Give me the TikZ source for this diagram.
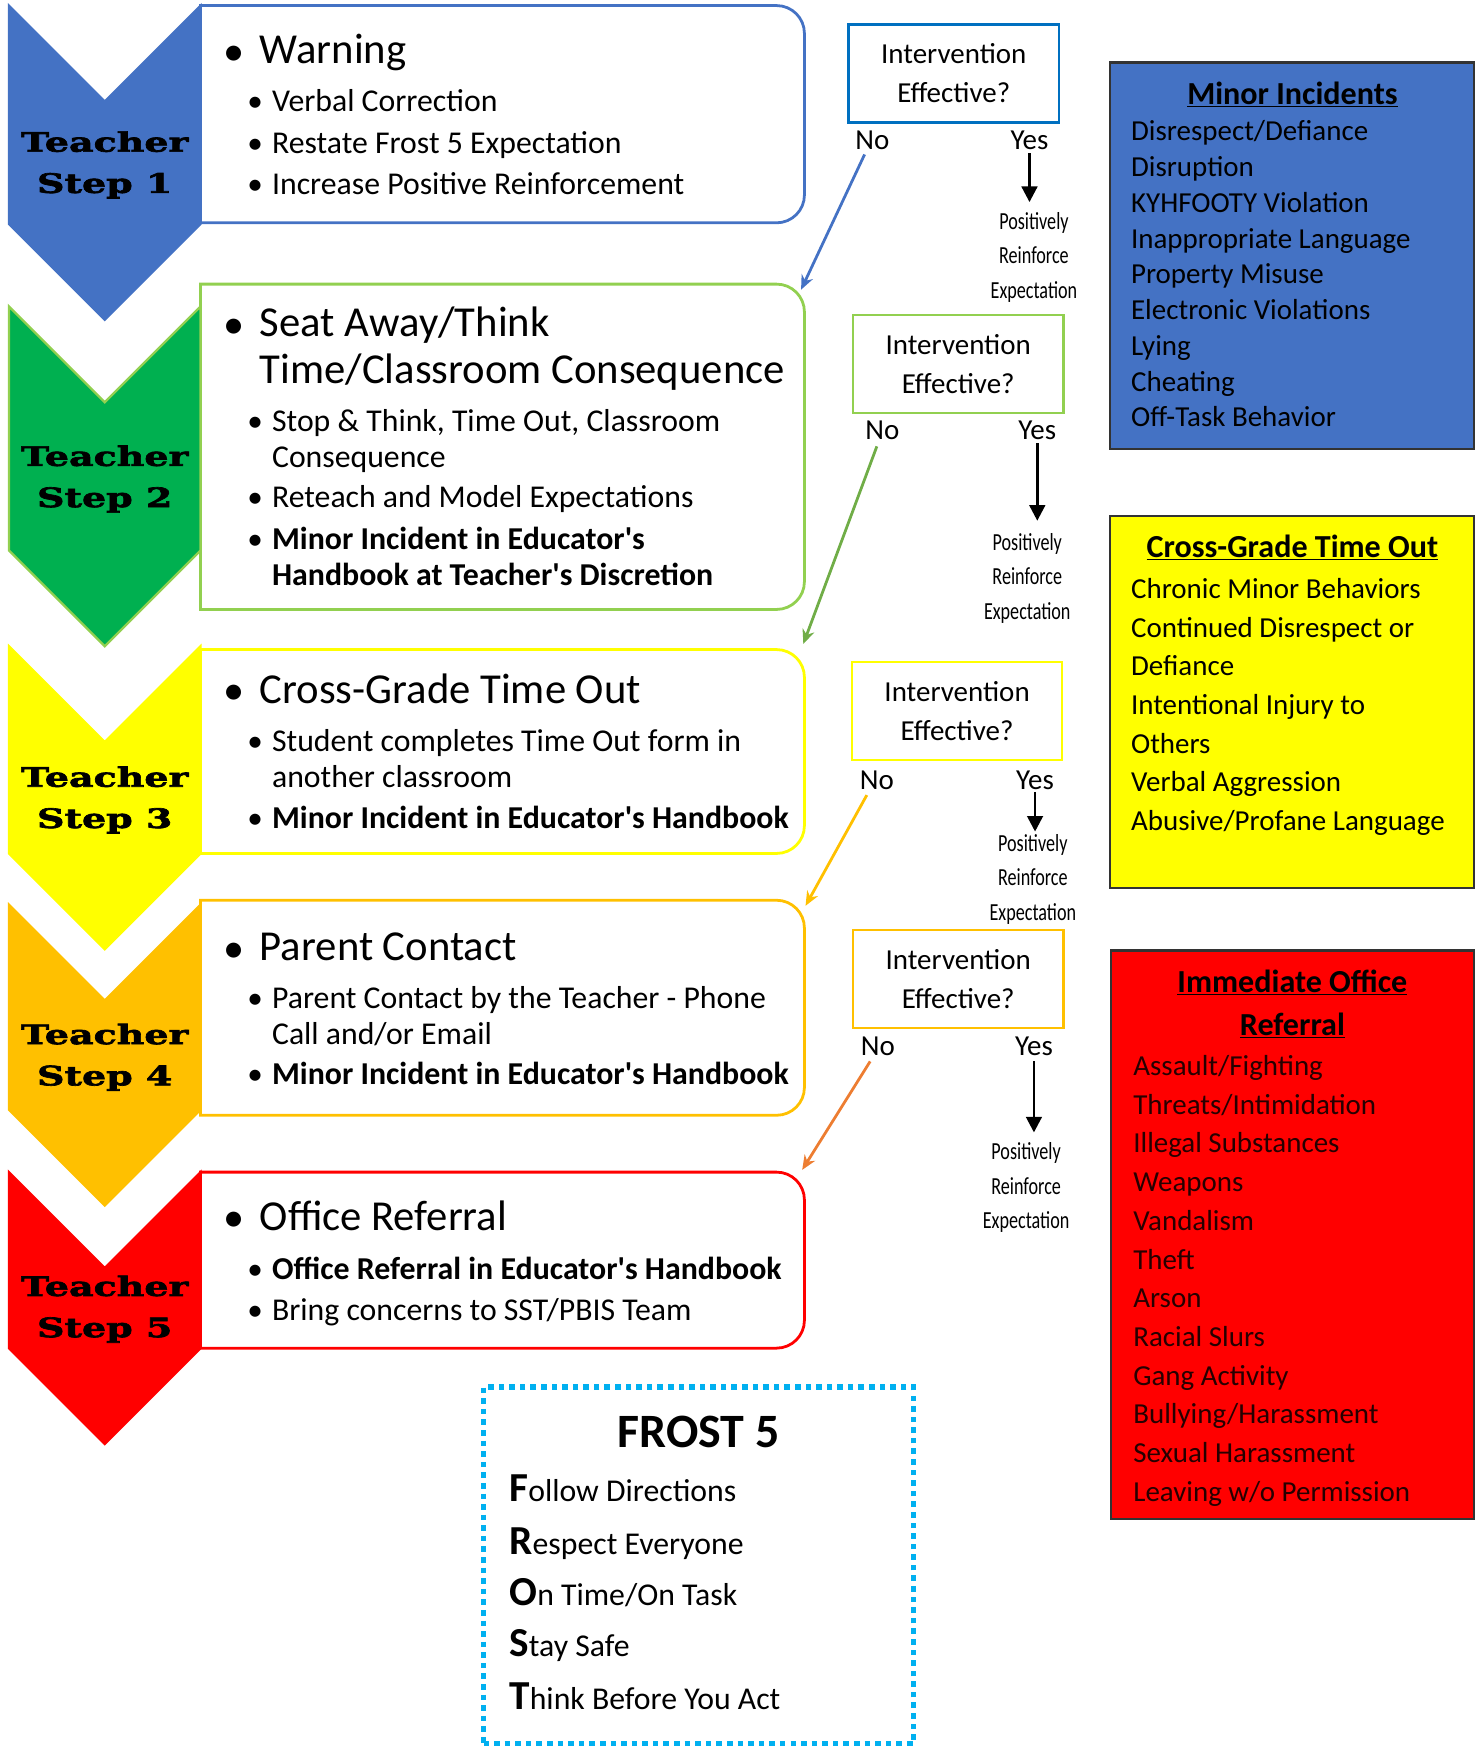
\documentclass[tikz,border=0pt]{standalone}
\usepackage{fontspec}
\setmainfont{Carlito}
\newfontfamily\condfont[FakeStretch=0.74]{Carlito}
\newfontfamily\stepfont[FakeStretch=1.42,FakeBold=2.5]{DejaVu Serif}
\usetikzlibrary{arrows.meta,calc}
\definecolor{cblue}{HTML}{4472C4}
\definecolor{cgreen}{HTML}{00B050}
\definecolor{clgreen}{HTML}{92D050}
\definecolor{cdgreen}{HTML}{70AD47}
\definecolor{cyel}{HTML}{FFFF00}
\definecolor{corange}{HTML}{FFC000}
\definecolor{cdorange}{HTML}{ED7D31}
\definecolor{cred}{HTML}{FF0000}
\definecolor{cib}{HTML}{0070C0}
\definecolor{cfrost}{HTML}{00B0F0}
\newcommand\myrbox[3]{%
  \draw[line width=2.5pt,#1] (180,#2) -- (697,#2) .. controls (710.8,#2) and (722,#2+11.2) .. (722,#2+25)
    -- (722,#3-25) .. controls (722,#3-11.2) and (710.8,#3) .. (697,#3) -- (180,#3) -- cycle;}
\newcommand\mychev[4]{%
  \filldraw[fill=#1,draw=#2,line width=2pt,line join=miter] (8,#3) -- (94,#3+86) -- (180,#3) -- (180,#4) -- (94,#4+86) -- (8,#4) -- cycle;}
\tikzset{
  every node/.style={inner sep=0pt},
  mainbul/.style={font=\fontsize{38}{42}\selectfont,anchor=center,yshift=-4pt},
  mainitem/.style={font=\fontsize{38.3}{42}\selectfont,anchor=mid west,yshift=-9pt},
  subbul/.style={font=\fontsize{28}{32}\selectfont,anchor=center,yshift=-4pt},
  subitem/.style={font=\fontsize{28.5}{32}\selectfont,anchor=mid west,yshift=-8pt},
  subbold/.style={font=\fontsize{28.6}{32}\selectfont\bfseries,anchor=mid west,yshift=-8pt},
  steplbl/.style={font=\stepfont\bfseries\fontsize{24}{37}\selectfont,align=center},
  ibox/.style={draw,line width=2pt,minimum width=189pt,minimum height=88pt,align=center,font=\fontsize{26}{35}\selectfont},
  yn/.style={font=\fontsize{26}{30}\selectfont},
  posl/.style={font=\condfont\fontsize{22}{31}\selectfont,align=center},
  yarrow/.style={line width=2.5pt,-{Triangle[length=14pt,width=14pt]}},
  noarrow/.style={line width=2.5pt,-{Stealth[length=13pt,width=11pt]}},
  listbox/.style={draw=black!80,line width=2pt},
  ltitle/.style={font=\fontsize{28.8}{32}\selectfont\bfseries},
  litem/.style={font=\fontsize{26}{30}\selectfont,anchor=mid west,yshift=-7pt},
  frostitem/.style={font=\fontsize{28.5}{32}\selectfont,anchor=base west},
  frostini/.style={font=\fontsize{37}{40}\selectfont\bfseries},
}
\newcommand\ini[1]{{\fontsize{37}{40}\selectfont\bfseries #1}}
\begin{document}
\begin{tikzpicture}[x=1pt,y=-1pt]
\useasboundingbox (0,0) rectangle (1328,1568);
% text boxes
\myrbox{cblue}{5}{200}
\myrbox{clgreen}{255}{547}
\myrbox{cyel}{583}{766}
\myrbox{corange}{808}{1001}
\myrbox{cred}{1052}{1210}
% chevrons
\mychev{cblue}{cblue}{5}{201}
\mychev{cgreen}{clgreen}{275}{494}
\mychev{cyel}{cyel}{580}{766}
\mychev{corange}{corange}{812}{996}
\mychev{cred}{cred}{1052}{1210}
\node[steplbl] (s1) at (94,148) {Teacher\\Step 1};
\node[steplbl] (s2) at (94,430) {Teacher\\Step 2};
\node[steplbl] (s3) at (94,718) {Teacher\\Step 3};
\node[steplbl] (s4) at (94,949) {Teacher\\Step 4};
\node[steplbl] (s5) at (94,1175) {Teacher\\Step 5};
% box 1
\node[mainbul] (b1m) at (210,46) {\textbullet};
\node[mainitem] (t1a) at (233,46) {Warning};
\node[subbul] (b1a) at (229,90) {\textbullet};
\node[subbul] (b1b) at (229,127) {\textbullet};
\node[subbul] (b1c) at (229,164) {\textbullet};
\node[subitem] (t1b) at (244,90) {Verbal Correction};
\node[subitem] (t1c) at (244,127) {Restate Frost 5 Expectation};
\node[subitem] (t1d) at (244,164) {Increase Positive Reinforcement};
% box 2
\node[mainbul] (b2m) at (210,291) {\textbullet};
\node[mainitem] (t2a) at (233,291) {Seat Away/Think};
\node[mainitem] (t2b) at (233,333) {Time/Classroom Consequence};
\node[subbul] (b2a) at (229,377) {\textbullet};
\node[subbul] (b2b) at (229,445) {\textbullet};
\node[subbul] (b2c) at (229,483) {\textbullet};
\node[subitem] (t2c) at (244,377) {Stop \& Think, Time Out, Classroom};
\node[subitem] (t2d) at (244,409) {Consequence};
\node[subitem] (t2e) at (244,445) {Reteach and Model Expectations};
\node[subbold] (t2f) at (244,483) {Minor Incident in Educator\textquotesingle s};
\node[subbold] (t2g) at (244,515) {Handbook at Teacher\textquotesingle s Discretion};
% box 3
\node[mainbul] (b3m) at (210,620) {\textbullet};
\node[mainitem] (t3a) at (233,620) {Cross-Grade Time Out};
\node[subbul] (b3a) at (229,664) {\textbullet};
\node[subbul] (b3b) at (229,733) {\textbullet};
\node[subitem] (t3b) at (244,664) {Student completes Time Out form in};
\node[subitem] (t3c) at (244,696) {another classroom};
\node[subbold] (t3d) at (244,733) {Minor Incident in Educator\textquotesingle s Handbook};
% box 4
\node[mainbul] (b4m) at (210,851) {\textbullet};
\node[mainitem] (t4a) at (233,851) {Parent Contact};
\node[subbul] (b4a) at (229,895) {\textbullet};
\node[subbul] (b4b) at (229,963) {\textbullet};
\node[subitem] (t4b) at (244,895) {Parent Contact by the Teacher - Phone};
\node[subitem] (t4c) at (244,927) {Call and/or Email};
\node[subbold] (t4d) at (244,963) {Minor Incident in Educator\textquotesingle s Handbook};
% box 5
\node[mainbul] (b5m) at (210,1093) {\textbullet};
\node[mainitem] (t5a) at (233,1093) {Office Referral};
\node[subbul] (b5a) at (229,1138) {\textbullet};
\node[subbul] (b5b) at (229,1175) {\textbullet};
\node[subbold] (t5b) at (244,1138) {Office Referral in Educator\textquotesingle s Handbook};
\node[subitem] (t5c) at (244,1175) {Bring concerns to SST/PBIS Team};
% intervention column
\node[ibox,draw=cib] (q1) at (856,66) {Intervention\\Effective?};
\node[yn] (no1) at (783,126) {No};
\node[yn] (yes1) at (924,126) {Yes};
\node[posl] (p1) at (928,231) {Positively\\Reinforce\\Expectation};
\node[ibox,draw=clgreen] (q2) at (860,327) {Intervention\\Effective?};
\node[yn] (no2) at (792,386) {No};
\node[yn] (yes2) at (931,386) {Yes};
\node[posl] (p2) at (922,519) {Positively\\Reinforce\\Expectation};
\node[ibox,draw=cyel] (q3) at (859,638) {Intervention\\Effective?};
\node[yn] (no3) at (787,700) {No};
\node[yn] (yes3) at (929,700) {Yes};
\node[posl] (p3) at (927,789) {Positively\\Reinforce\\Expectation};
\node[ibox,draw=corange] (q4) at (860,879) {Intervention\\Effective?};
\node[yn] (no4) at (788,939) {No};
\node[yn] (yes4) at (928,939) {Yes};
\node[posl] (p4) at (921,1066) {Positively\\Reinforce\\Expectation};
\draw[yarrow,shorten <=3pt,shorten >=9pt] (yes1.south) -- (yes1.south |- p1.north);
\draw[yarrow,shorten <=3pt,shorten >=11pt] (yes2.south) -- (yes2.south |- p2.north);
\draw[yarrow,shorten <=2pt,shorten >=2pt] (yes3.south) -- (yes3.south |- p3.north);
\draw[yarrow,shorten <=5pt,shorten >=9pt] (yes4.south) -- (yes4.south |- p4.north);
\coordinate (e1) at (719,260);
\coordinate (e2) at (721,578);
\coordinate (e3) at (723,813);
\coordinate (e4) at (720,1050);
\draw[noarrow,cblue] ($(no1.south)+(-7,4)$) -- (e1);
\draw[noarrow,cdgreen] ($(no2.south)+(-5,6)$) -- (e2);
\draw[noarrow,corange] ($(no3.south)+(-9,5)$) -- (e3);
\draw[noarrow,cdorange] ($(no4.south)+(-7,5)$) -- (e4);
% right column
\node[listbox,fill=cblue,minimum width=327pt,minimum height=347pt] (minor) at (1159.5,229.5) {};
\node[ltitle] (minorT) at (1160,85) {\underline{Minor Incidents}};
\foreach \t [count=\i from 0] in {Disrespect/Defiance,Disruption,KYHFOOTY Violation,Inappropriate Language,Property Misuse,Electronic Violations,Lying,Cheating,Off-Task Behavior}
  \node[litem] (mi\i) at (1015,{117+\i*32.1}) {\t};
\node[listbox,fill=cyel,minimum width=327pt,minimum height=334pt] (cgto) at (1159.5,630) {};
\node[ltitle] (cgtoT) at (1160,491) {\underline{Cross-Grade Time Out}};
\foreach \t [count=\i from 0] in {Chronic Minor Behaviors,Continued Disrespect or,Defiance,Intentional Injury to,Others,Verbal Aggression,Abusive/Profane Language}
  \node[litem] (cg\i) at (1015,{528+\i*34.67}) {\t};
\node[listbox,fill=cred,minimum width=326pt,minimum height=510pt] (ior) at (1160,1108) {};
\node[ltitle] (iorT) at (1160,882) {\underline{Immediate Office}};
\node[ltitle] (iorT2) at (1160,920) {\underline{Referral}};
\foreach \t [count=\i from 0] in {Assault/Fighting,Threats/Intimidation,Illegal Substances,Weapons,Vandalism,Theft,Arson,Racial Slurs,Gang Activity,Bullying/Harassment,Sexual Harassment,Leaving w/o Permission}
  \node[litem,text=black!85!red] (io\i) at (1017,{956+\i*34.73}) {\t};
% FROST 5
\node[draw=cfrost,line width=5pt,dash pattern=on 5pt off 4.5pt,minimum width=386pt,minimum height=320pt] (frost) at (627,1405) {};
\node[font=\fontsize{43}{46}\selectfont\bfseries] (frostT) at (627,1285) {FROST 5};
\node[frostitem] (f1) at (457,1348) {\ini{F}ollow Directions};
\node[frostitem] (f2) at (457,1395) {\ini{R}espect Everyone};
\node[frostitem] (f3) at (457,1441) {\ini{O}n Time/On Task};
\node[frostitem] (f4) at (457,1487) {\ini{S}tay Safe};
\node[frostitem] (f5) at (457,1534) {\ini{T}hink Before You Act};
\end{tikzpicture}
\end{document}
